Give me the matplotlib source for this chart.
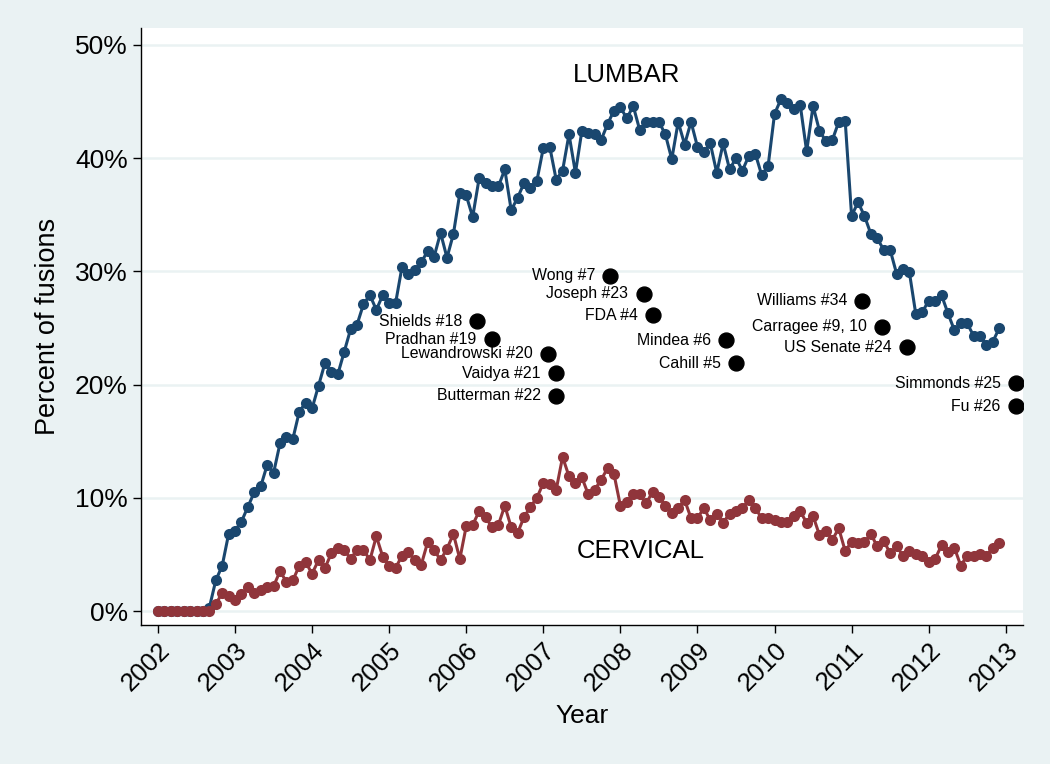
import numpy as np
import matplotlib
matplotlib.use("Agg")
import matplotlib.pyplot as plt
from matplotlib.ticker import FuncFormatter

plt.rcParams["font.family"] = ["Liberation Sans", "DejaVu Sans"]

# monthly share of fusions (%), Jan 2002 .. Dec 2012
lumbar = [
    0, 0, 0, 0, 0, 0, 0, 0, 0.3,
    2.7, 4.0, 6.8, 7.1, 7.9, 9.2, 10.5, 11.0, 12.9, 12.2,
    14.8, 15.4, 15.2, 17.6, 18.4, 17.9, 19.9, 21.9, 21.1, 20.9,
    22.9, 24.9, 25.3, 27.1, 27.9, 26.6, 27.9, 27.2, 27.2, 30.4,
    29.8, 30.1, 30.8, 31.8, 31.3, 33.4, 31.2, 33.3, 36.9, 36.7,
    34.8, 38.2, 37.8, 37.5, 37.5, 39.0, 35.4, 36.5, 37.8, 37.4,
    38.0, 40.9, 41.0, 38.1, 38.9, 42.1, 38.7, 42.4, 42.2, 42.1,
    41.6, 43.0, 44.2, 44.5, 43.5, 44.6, 42.5, 43.2, 43.2, 43.2,
    42.1, 39.9, 43.2, 41.2, 43.2, 41.0, 40.5, 41.3, 38.7, 41.3,
    39.0, 40.0, 38.9, 40.2, 40.4, 38.5, 39.3, 43.9, 45.2, 44.9,
    44.3, 44.7, 40.6, 44.6, 42.4, 41.5, 41.6, 43.2, 43.3, 34.9,
    36.1, 34.9, 33.3, 32.9, 31.9, 31.9, 29.8, 30.2, 29.9, 26.2,
    26.4, 27.4, 27.4, 27.9, 26.3, 24.8, 25.4, 25.4, 24.3, 24.3,
    23.5, 23.8, 25.0,
]

cervical = [
    0, 0, 0, 0, 0, 0, 0, 0, 0,
    0.6, 1.6, 1.3, 1.0, 1.5, 2.1, 1.6, 1.9, 2.1, 2.2,
    3.5, 2.6, 2.7, 4.0, 4.3, 3.3, 4.5, 3.8, 5.1, 5.6,
    5.4, 4.6, 5.4, 5.4, 4.5, 6.6, 4.8, 4.0, 3.8, 4.9,
    5.2, 4.5, 4.1, 6.1, 5.4, 4.5, 5.5, 6.8, 4.6, 7.5,
    7.6, 8.8, 8.3, 7.4, 7.6, 9.3, 7.4, 6.9, 8.3, 9.2,
    10.0, 11.3, 11.2, 10.7, 13.6, 11.9, 11.3, 11.8, 10.3, 10.7,
    11.6, 12.6, 12.1, 9.3, 9.6, 10.3, 10.3, 9.5, 10.5, 10.1,
    9.3, 8.7, 9.1, 9.8, 8.2, 8.2, 9.1, 8.0, 8.6, 7.8,
    8.6, 8.8, 9.1, 9.8, 9.1, 8.2, 8.2, 8.0, 7.9, 7.9,
    8.4, 8.8, 7.8, 8.4, 6.7, 7.1, 6.3, 7.3, 5.3, 6.1,
    6.0, 6.1, 6.8, 5.7, 6.2, 5.1, 5.7, 4.9, 5.3, 5.0,
    4.9, 4.3, 4.6, 5.8, 5.2, 5.6, 4.0, 4.9, 4.9, 5.0,
    4.9, 5.6, 6.0,
]

# publications / events marked on the chart
event_names = ["Shields #18", "Pradhan #19", "Lewandrowski #20", "Vaidya #21",
               "Butterman #22", "Wong #7", "Joseph #23", "FDA #4", "Mindea #6",
               "Cahill #5", "Williams #34", "Carragee #9, 10", "US Senate #24",
               "Simmonds #25", "Fu #26"]
event_x = [2006.14, 2006.33, 2007.06, 2007.16, 2007.17, 2007.87, 2008.30, 2008.42,
           2009.37, 2009.50, 2011.14, 2011.39, 2011.72, 2013.13, 2013.13]
event_y = [25.6, 24.0, 22.7, 21.0, 19.0, 29.6, 28.0, 26.1, 23.9, 21.9,
           27.4, 25.1, 23.3, 20.1, 18.1]

years = list(range(2002, 2014))
yticks = [0, 10, 20, 30, 40, 50]

BG = "#EAF2F3"
BLUE = "#1A476F"
RED = "#90353B"

t = 2002 + np.arange(len(lumbar)) / 12.0

fig = plt.figure(figsize=(10.5, 7.64), dpi=100, facecolor=BG)
ax = fig.add_axes([0.1343, 0.182, 0.8397, 0.7815])
ax.set_facecolor("white")

for v in yticks:
    ax.axhline(v, color=BG, lw=1.8, zorder=0)

ax.plot(t, lumbar, color=BLUE, lw=2.2, marker="o", ms=8, mew=0, zorder=3)
ax.plot(t, cervical, color=RED, lw=2.2, marker="o", ms=8, mew=0, zorder=3)

ax.scatter(event_x, event_y, s=115, color="black", zorder=4)
for name, x, y in zip(event_names, event_x, event_y):
    ax.annotate(name, (x, y), xytext=(-11, 0), textcoords="offset points",
                ha="right", va="center", fontsize=11.4)

ax.text(2008.08, 47.3, "LUMBAR", ha="center", va="center", fontsize=18.5)
ax.text(2008.26, 5.3, "CERVICAL", ha="center", va="center", fontsize=18.5)

ax.set_xlim(2001.78, 2013.22)
ax.set_ylim(-1.23, 51.5)
ax.set_xticks(years)
ax.set_xticklabels([str(y) for y in years], rotation=45, ha="right",
                   rotation_mode="anchor", fontsize=18.5)
ax.set_yticks(yticks)
ax.yaxis.set_major_formatter(FuncFormatter(lambda v, p: f"{v:.0f}%"))
ax.tick_params(axis="y", labelsize=19)
ax.tick_params(direction="out", length=6, width=1, color="black")

for s in ["top", "right"]:
    ax.spines[s].set_visible(False)
for s in ["left", "bottom"]:
    ax.spines[s].set_color("black")
    ax.spines[s].set_linewidth(1)

ax.set_ylabel("Percent of fusions", fontsize=19.5, labelpad=10)
ax.set_xlabel("Year", fontsize=19, labelpad=6)

fig.savefig("out.png", dpi=100, facecolor=BG)
